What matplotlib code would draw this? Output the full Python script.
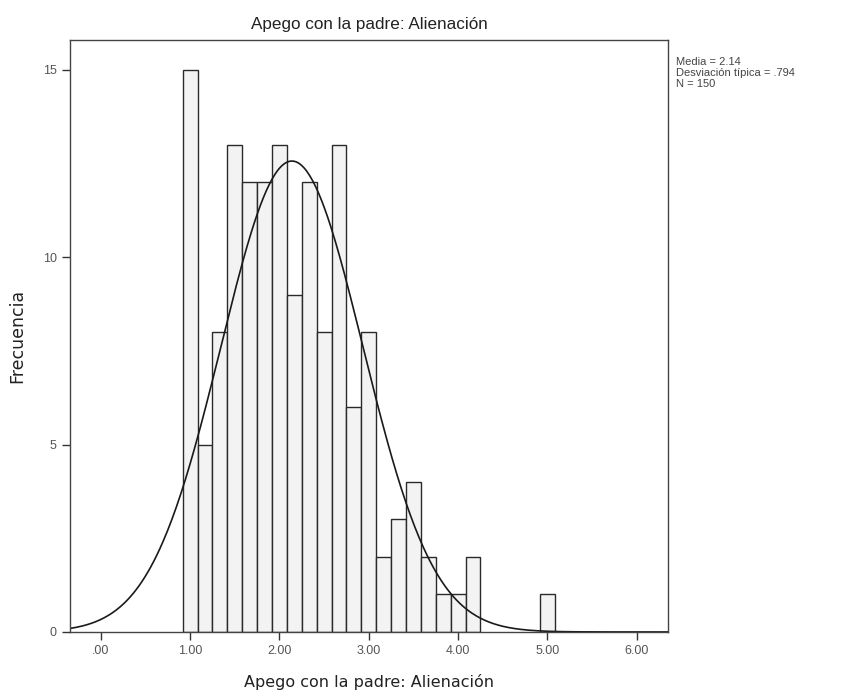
import numpy as np
import matplotlib
matplotlib.use("Agg")
import matplotlib.pyplot as plt

plt.rcParams['font.family'] = ['Liberation Sans', 'DejaVu Sans']

# centros de las barras (ancho 1/6) y frecuencias
centros = [1.0, 7/6, 4/3, 1.5, 5/3, 11/6, 2.0, 13/6, 7/3, 2.5, 8/3, 17/6,
           3.0, 19/6, 10/3, 3.5, 11/3, 23/6, 4.0, 25/6, 5.0]
frec = [15, 5, 8, 13, 12, 12, 13, 9, 12, 8, 13, 6,
        8, 2, 3, 4, 2, 1, 1, 2, 1]
ancho = 1/6

media = 2.14
desv = 0.794
n = 150

xticks = [0, 1, 2, 3, 4, 5, 6]
xtick_labels = ['.00', '1.00', '2.00', '3.00', '4.00', '5.00', '6.00']
yticks = [0, 5, 10, 15]

fig = plt.figure(figsize=(8.43, 6.98), dpi=100)
ax = fig.add_axes([0.083, 0.0946, 0.7095, 0.8481])

ax.bar(centros, frec, width=ancho, facecolor='#f3f3f3', edgecolor='#2a2a2a',
       linewidth=1.0, align='center')

# curva normal
xmin, xmax = -0.344, 6.35
xs = np.linspace(xmin, xmax, 400)
ys = n * ancho / (desv * np.sqrt(2 * np.pi)) * np.exp(-0.5 * ((xs - media) / desv) ** 2)
ax.plot(xs, ys, color='#1a1a1a', linewidth=1.2)

ax.set_xlim(xmin, xmax)
ax.set_ylim(0, 15.79)
ax.set_xticks(xticks)
ax.set_xticklabels(xtick_labels)
ax.set_yticks(yticks)
ax.tick_params(axis='both', direction='out', length=6, width=1, colors='#333333',
               labelsize=9, labelcolor='#555555')
for s in ax.spines.values():
    s.set_color('#444444')
    s.set_linewidth(1.0)

ax.set_title('Apego con la padre: Alienación', fontsize=12.3, color='#222222', pad=8)
ax.set_xlabel('Apego con la padre: Alienación', fontsize=11.5,
              family='DejaVu Sans', color='#222222', labelpad=12)
ax.set_ylabel('Frecuencia', fontsize=12.5, family='DejaVu Sans',
              color='#222222', labelpad=12)

fig.text(0.802, 0.918, 'Media = 2.14\nDesviación típica = .794\nN = 150',
         fontsize=8, color='#444444', va='top', ha='left', linespacing=1.12)

fig.savefig('out.png', dpi=100, facecolor='white')
